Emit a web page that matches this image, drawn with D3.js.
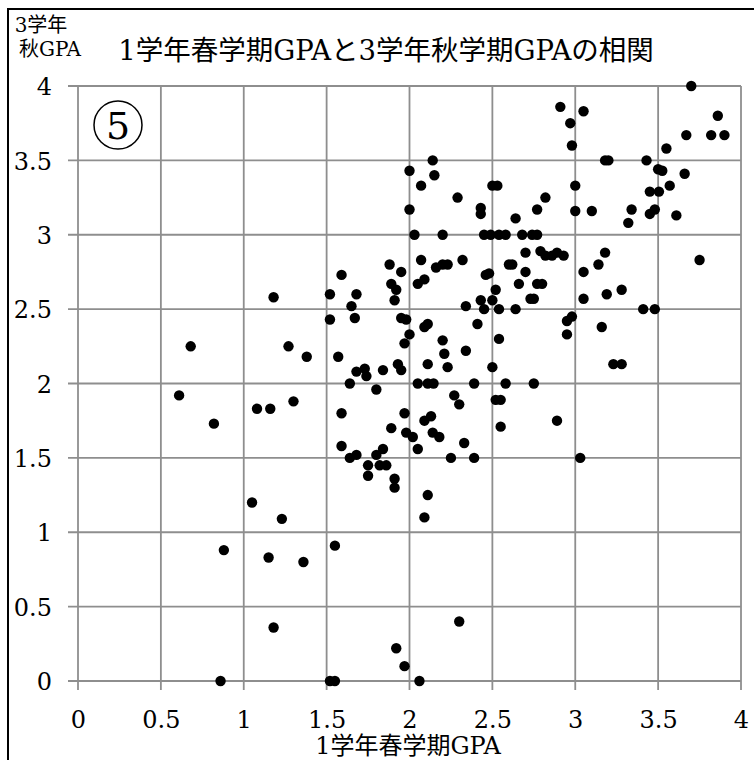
<!DOCTYPE html>
<html>
<head>
<meta charset="utf-8">
<script src="https://cdn.jsdelivr.net/npm/d3@7"></script>
<style>
  html, body { margin: 0; padding: 0; background: #fff; }
  svg { display: block; }
</style>
</head>
<body>
<div id="chart"></div>
<script>
// 1st-year spring GPA (x) vs 3rd-year autumn GPA (y), one pair per student
const springGPA = [
  0.61, 0.68, 0.82, 0.86, 0.88, 1.05, 1.08, 1.15, 1.16, 1.18,
  1.18, 1.23, 1.27, 1.30, 1.36, 1.38, 1.52, 1.55, 1.55, 1.52,
  1.52, 1.57, 1.59, 1.59, 1.59, 1.64, 1.64, 1.65, 1.67, 1.68,
  1.68, 1.68, 1.73, 1.74, 1.75, 1.75, 1.80, 1.80, 1.82, 1.84,
  1.84, 1.86, 1.88, 1.89, 1.89, 1.91, 1.91, 1.91, 1.92, 1.92,
  1.93, 1.95, 1.95, 1.95, 1.97, 1.97, 1.97, 1.98, 1.98, 2.00,
  2.00, 2.00, 2.02, 2.03, 2.05, 2.05, 2.05, 2.06, 2.07, 2.07,
  2.09, 2.09, 2.09, 2.09, 2.11, 2.11, 2.11, 2.11, 2.13, 2.14,
  2.145, 2.14, 2.15, 2.16, 2.18, 2.20, 2.20, 2.20, 2.21, 2.23,
  2.23, 2.25, 2.27, 2.29, 2.30, 2.30, 2.32, 2.33, 2.34, 2.34,
  2.39, 2.39, 2.41, 2.43, 2.43, 2.43, 2.45, 2.45, 2.46, 2.48,
  2.49, 2.50, 2.50, 2.50, 2.52, 2.52, 2.53, 2.54, 2.54, 2.54,
  2.55, 2.55, 2.58, 2.58, 2.60, 2.62, 2.64, 2.64, 2.66, 2.68,
  2.70, 2.70, 2.73, 2.74, 2.75, 2.75, 2.77, 2.77, 2.77, 2.79,
  2.80, 2.82, 2.82, 2.86, 2.89, 2.89, 2.91, 2.93, 2.95, 2.95,
  2.97, 2.98, 2.98, 3.00, 3.00, 3.03, 3.05, 3.05, 3.05, 3.10,
  3.14, 3.16, 3.18, 3.18, 3.19, 3.20, 3.23, 3.28, 3.28, 3.32,
  3.34, 3.41, 3.43, 3.45, 3.45, 3.48, 3.48, 3.50, 3.505, 3.525,
  3.55, 3.57, 3.61, 3.66, 3.67, 3.70, 3.75, 3.82, 3.86, 3.90
];
const autumnGPA = [
  1.92, 2.25, 1.73, 0.00, 0.88, 1.20, 1.83, 0.83, 1.83, 2.58,
  0.36, 1.09, 2.25, 1.88, 0.80, 2.18, 0.00, 0.00, 0.91, 2.60,
  2.43, 2.18, 2.73, 1.80, 1.58, 2.00, 1.50, 2.52, 2.44, 2.60,
  2.08, 1.52, 2.10, 2.05, 1.45, 1.38, 1.96, 1.52, 1.45, 2.09,
  1.56, 1.45, 2.80, 2.67, 1.70, 2.56, 1.36, 1.30, 2.63, 0.22,
  2.13, 2.75, 2.44, 2.09, 2.27, 1.80, 0.10, 2.43, 1.67, 3.43,
  3.17, 2.33, 1.64, 3.00, 2.67, 2.00, 1.56, 0.00, 3.33, 2.83,
  2.70, 2.38, 1.75, 1.10, 2.40, 2.13, 2.00, 1.25, 1.78, 3.50,
  2.00, 1.67, 3.40, 2.78, 1.64, 3.00, 2.80, 2.29, 2.20, 2.80,
  2.11, 1.50, 1.92, 3.25, 1.86, 0.40, 2.83, 1.60, 2.52, 2.22,
  2.00, 1.50, 2.40, 3.18, 3.14, 2.56, 3.00, 2.50, 2.73, 2.74,
  3.00, 3.33, 2.56, 2.11, 2.63, 1.89, 3.33, 3.00, 2.50, 2.30,
  1.89, 1.71, 3.00, 2.00, 2.80, 2.80, 3.11, 2.50, 2.67, 3.00,
  2.88, 2.75, 2.57, 3.00, 2.57, 2.00, 3.17, 3.00, 2.67, 2.89,
  2.67, 3.25, 2.86, 2.86, 2.88, 1.75, 3.86, 2.86, 2.42, 2.33,
  3.75, 3.60, 2.45, 3.33, 3.16, 1.50, 3.83, 2.75, 2.57, 3.16,
  2.80, 2.38, 3.50, 2.88, 2.60, 3.50, 2.13, 2.63, 2.13, 3.08,
  3.17, 2.50, 3.50, 3.29, 3.14, 3.17, 2.50, 3.44, 3.29, 3.43,
  3.58, 3.33, 3.13, 3.41, 3.67, 4.00, 2.83, 3.67, 3.80, 3.67
];
const tickValues = [0, 0.5, 1, 1.5, 2, 2.5, 3, 3.5, 4];
const tickLabels = ["0", "0.5", "1", "1.5", "2", "2.5", "3", "3.5", "4"];

const chartTitle = "1学年春学期GPAと3学年秋学期GPAの相関";
const xTitle = "1学年春学期GPA";
const yTitleLines = ["3学年", "秋GPA"];
const panelMark = "5";

const W = 754, H = 760;
const plot = { left: 78, right: 741, top: 86, bottom: 681 };
const serif = '"DejaVu Serif", "Noto Sans CJK JP", serif';
const gridColor = "#8e8e8e";

const svg = d3.select("#chart").append("svg")
  .attr("width", W).attr("height", H)
  .attr("viewBox", `0 0 ${W} ${H}`);

// outer frame of the figure
svg.append("rect")
  .attr("x", 8).attr("y", 9)
  .attr("width", W + 10).attr("height", H + 10)
  .attr("fill", "none").attr("stroke", "#000").attr("stroke-width", 2);

const x = d3.scaleLinear().domain([0, 4]).range([plot.left, plot.right]);
const y = d3.scaleLinear().domain([0, 4]).range([plot.bottom, plot.top]);

// gridlines
const grid = svg.append("g").attr("stroke", gridColor).attr("stroke-width", 1.8);
grid.selectAll("line.v").data(tickValues).join("line")
  .attr("class", "v")
  .attr("x1", d => x(d)).attr("x2", d => x(d))
  .attr("y1", plot.top).attr("y2", plot.bottom + 9);
grid.selectAll("line.h").data(tickValues).join("line")
  .attr("class", "h")
  .attr("y1", d => y(d)).attr("y2", d => y(d))
  .attr("x1", plot.left - 10).attr("x2", plot.right);

// axes: labels only, lines come from the grid
const fmt = d => tickLabels[tickValues.indexOf(d)];
const xAxis = svg.append("g")
  .attr("transform", `translate(0,${plot.bottom})`)
  .call(d3.axisBottom(x).tickValues(tickValues).tickFormat(fmt).tickSize(0).tickPadding(30));
const yAxis = svg.append("g")
  .attr("transform", `translate(${plot.left},0)`)
  .call(d3.axisLeft(y).tickValues(tickValues).tickFormat(fmt).tickSize(0).tickPadding(26));
[xAxis, yAxis].forEach(a => {
  a.select(".domain").remove();
  a.selectAll("text")
    .attr("font-family", serif)
    .attr("font-size", 24)
    .attr("fill", "#000");
});
xAxis.selectAll("text").attr("dy", "0.71em");
yAxis.selectAll("text").attr("dy", "0.36em");

// scatter points
const pts = springGPA.map((v, i) => ({ x: v, y: autumnGPA[i] }));
svg.append("g").selectAll("circle").data(pts).join("circle")
  .attr("cx", d => x(d.x))
  .attr("cy", d => y(d.y))
  .attr("r", 5.2)
  .attr("fill", "#000");

// titles
svg.append("text")
  .attr("x", 386).attr("y", 60)
  .attr("text-anchor", "middle")
  .attr("font-family", serif).attr("font-size", 27.5)
  .attr("fill", "#000")
  .text(chartTitle);

svg.append("text")
  .attr("x", 408).attr("y", 754)
  .attr("text-anchor", "middle")
  .attr("font-family", serif).attr("font-size", 24)
  .attr("fill", "#000")
  .text(xTitle);

svg.append("g").selectAll("text").data(yTitleLines).join("text")
  .attr("x", (d, i) => i === 0 ? 41 : 50)
  .attr("y", (d, i) => 32 + i * 24)
  .attr("text-anchor", "middle")
  .attr("font-family", serif).attr("font-size", 20)
  .attr("fill", "#000")
  .text(d => d);

// circled panel number
const mark = svg.append("g").attr("transform", "translate(118,125)");
mark.append("circle").attr("r", 24)
  .attr("fill", "none").attr("stroke", "#000").attr("stroke-width", 1.5);
mark.append("text")
  .attr("text-anchor", "middle").attr("dy", "0.36em")
  .attr("font-family", serif).attr("font-size", 38)
  .attr("fill", "#000")
  .text(panelMark);
</script>
</body>
</html>
